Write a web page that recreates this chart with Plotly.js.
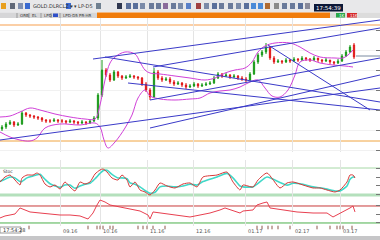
<!DOCTYPE html>
<html><head><meta charset="utf-8">
<script src="https://cdn.plot.ly/plotly-3.0.1.min.js"></script>
<style>html,body{margin:0;padding:0;background:#fff;overflow:hidden}#chart{width:380px;height:240px}</style>
</head><body><div id="chart"></div>
<script>
// ---------- data ----------
const openP = [1042,1046,1052,1056,1050,1052,1074,1070,1068,1066,1064,1060,1058,1058,1060,1058,1058,1056,1058,1056,1054,1056,1054,1058,1064,1110,1160,1150,1140,1156,1148,1144,1146,1148,1146,1144,1132,1120,1106,1156,1144,1140,1142,1136,1132,1134,1130,1126,1128,1132,1128,1130,1132,1134,1144,1152,1148,1150,1146,1148,1144,1142,1140,1152,1176,1190,1196,1206,1184,1176,1178,1176,1180,1178,1182,1180,1184,1182,1180,1184,1180,1178,1180,1176,1174,1178,1188,1196,1210];
const highP = [1050,1056,1060,1058,1056,1078,1076,1072,1070,1068,1066,1062,1062,1064,1062,1062,1060,1062,1060,1058,1060,1058,1062,1068,1114,1180,1164,1154,1160,1158,1150,1150,1152,1150,1148,1146,1136,1124,1164,1160,1148,1146,1146,1140,1138,1136,1134,1132,1136,1134,1134,1136,1138,1148,1156,1154,1154,1152,1152,1150,1148,1146,1156,1180,1194,1200,1214,1208,1188,1182,1180,1184,1182,1186,1184,1188,1186,1184,1188,1184,1182,1184,1180,1178,1182,1192,1200,1210,1214];
const lowP = [1038,1042,1050,1046,1048,1050,1066,1064,1062,1060,1056,1054,1054,1056,1054,1054,1052,1054,1052,1050,1052,1050,1052,1056,1060,1106,1146,1136,1138,1144,1140,1142,1144,1142,1140,1128,1116,1100,1104,1140,1136,1138,1132,1128,1130,1126,1122,1124,1126,1124,1126,1128,1130,1132,1142,1144,1146,1142,1144,1140,1138,1136,1138,1150,1172,1186,1192,1180,1172,1174,1172,1174,1174,1176,1176,1178,1178,1176,1178,1176,1174,1176,1172,1170,1172,1176,1186,1194,1182];
const closeP = [1046,1052,1056,1050,1052,1074,1070,1068,1066,1064,1060,1058,1058,1060,1058,1058,1056,1058,1056,1054,1056,1054,1058,1064,1110,1160,1150,1140,1156,1148,1144,1146,1148,1146,1144,1132,1120,1106,1156,1144,1140,1142,1136,1132,1134,1130,1126,1128,1132,1128,1130,1132,1134,1144,1152,1148,1150,1146,1148,1144,1142,1140,1152,1176,1190,1196,1206,1184,1176,1178,1176,1180,1178,1182,1180,1184,1182,1180,1184,1180,1178,1180,1176,1174,1178,1188,1196,1206,1186];

const bbUpperX = [-0.5,2,4.5,7,9.5,13.25,17,20.75,23.25,24.5,25.75,27,28.25,30.75,33.25,34.5,35.75,37,39.5,43.25,47,50.75,53.25,55.75,58.25,60.75,62.5,64,65.75,68.25,72,74.5,77,79.5,83.25,85.25,86.5,87.75];
const bbUpper  = [1066,1068,1076,1084,1080,1072,1066,1062,1062,1090,1140,1174,1186,1196,1192,1176,1160,1154,1152,1148,1144,1140,1144,1154,1160,1164,1176,1196,1208,1214,1214,1206,1194,1186,1184,1184,1190,1200];
const bbLowerX = [-0.5,2,4.5,7,8.75,10.75,14.5,19.5,23.25,24.5,25.5,26.5,28.25,30.75,32.5,34,35.75,37,39.5,43.25,47,49.5,52,54.5,57,59.5,62,64,65.75,67.5,69.5,71.5,73.25,74.5,77,79.5,82.75,85.75,87.75];
const bbLower  = [1036,1026,1020,1018,1024,1044,1052,1050,1054,1046,1020,1004,1016,1044,1070,1104,1120,1108,1102,1100,1102,1104,1114,1118,1120,1126,1136,1140,1124,1108,1106,1120,1150,1176,1180,1174,1170,1168,1166];

// trend lines: start/end (bar index, price)
const trendStartX = [22.75,37.75,37,-0.5,37,25.75,31.5,66.5];
const trendStartP = [1182,1166,1100,1020,1044,1186,1134,1210];
const trendEndX   = [94.5,94.5,94.5,94.5,94.5,94.5,94.5,92];
const trendEndP   = [1260,1244,1184,1124,1150,1096,1080,1080];

const levelPeach = 1250, levelOrange = 1018, lastPrice = 1188;

const stochX = [-0.5,0.75,2,3.25,4.5,5,6.25,7.75,8.75,9.5,10.75,12,13.25,14.5,15.75,17,18.25,19.5,20.75,22,23.25,24.5,25.25,26.25,27.5,29,30,31.25,32,33.25,34.5,35.75,37,38.25,39.5,41.25,43.25,45.25,47,48.75,50.25,53.75,56.25,57.75,59.5,60.25,62.75,64,66.25,69.5,71.25,72.75,75.25,77.75,79.5,81.25,83.25,84.5,86.25,87,87.75,88.25];
const stochK = [48.9,60,64.4,53.3,42.2,57.8,64.4,64.4,68.9,64.4,44.4,37.8,42.2,33.3,48.9,37.8,28.9,48.9,44.4,48.9,66.7,75.6,77.8,71.1,57.8,53.3,64.4,53.3,37.8,48.9,31.1,26.7,20,31.1,46.7,40,35.6,44.4,46.7,37.8,60,64.4,71.1,48.9,31.1,42.2,37.8,53.3,68.9,35.6,46.7,48.9,42.2,35.6,35.6,31.1,26.7,31.1,48.9,64.4,64.4,57.8];
const stochD = [50,55,60,58,50,50,58,62,65,66,55,45,40,37,42,42,35,40,44,46,56,68,74,75,66,58,58,56,47,44,38,30,24,26,38,40,38,40,44,42,50,60,68,58,40,38,38,46,60,48,42,46,44,38,36,33,29,29,40,55,60,60];
const stochLevels = [80, 20];

const rsiX = [-0.5,0.75,2,3.25,4.5,5.75,7,9.5,12,14.5,17,19.5,21.5,22.75,23.75,24.5,25.75,27,29.5,32,34.5,36.5,37,37.75,39.5,42,44.5,47,49.5,52,54.5,55.75,59.5,60.25,62.75,63.75,65.25,66.25,67,70.25,73.75,77.75,81.25,82.75,83.75,85.25,87,87.75,88.25];
const rsiV = [41.8,46.5,48.8,51.2,65.3,60.6,55.9,53.5,51.2,48.8,48.8,46.5,39.4,53.5,72.4,84.1,79.4,72.4,67.6,62.9,58.2,48.8,39.4,55.9,53.5,51.2,46.5,44.1,48.8,53.5,60.6,65.3,53.5,58.2,60.6,72.4,77.1,79.4,65.3,60.6,55.9,53.5,53.5,44.1,48.8,55.9,65.3,70,55.9];
const rsiLevels = [70, 30];

const tickPos = [14.5,24.5,36.25,47.75,60.75,72.5,84.5];
const tickLabels = ["09.16","10.16","11.16","12.16","01.17","02.17","03.17"];
const eventIdx = [6.75,21.5,23.75,24.5,25.25,27,27.75,34,35.25,36.25,37.75,40.75,63.75,65,66.5,67.5,69,72,78.75,82,83.75,84.5,85.25,87.5];

// ---------- build ----------
const barIdx = closeP.map((_, i) => i);
const traces = [];
traces.push({type:'candlestick', x:barIdx, open:openP, high:highP, low:lowP, close:closeP,
  xaxis:'x', yaxis:'y', whiskerwidth:0,
  increasing:{line:{color:'#1a9a1a', width:1}, fillcolor:'#1a9a1a'},
  decreasing:{line:{color:'#e01818', width:1}, fillcolor:'#e01818'},
  hoverinfo:'skip', showlegend:false});
traces.push({type:'scatter', mode:'lines', x:bbUpperX, y:bbUpper, xaxis:'x', yaxis:'y',
  line:{color:'#d040d8', width:1, shape:'spline', smoothing:1}, hoverinfo:'skip', showlegend:false});
traces.push({type:'scatter', mode:'lines', x:bbLowerX, y:bbLower, xaxis:'x', yaxis:'y',
  line:{color:'#d040d8', width:1, shape:'spline', smoothing:1}, hoverinfo:'skip', showlegend:false});
for (let k = 0; k < trendStartX.length; k++) {
  traces.push({type:'scatter', mode:'lines', x:[trendStartX[k], trendEndX[k]], y:[trendStartP[k], trendEndP[k]],
    xaxis:'x', yaxis:'y', line:{color:'#3a3ac8', width:1}, hoverinfo:'skip', showlegend:false});
}
traces.push({type:'scatter', mode:'lines', x:[88.5, 94.5], y:[lastPrice, lastPrice], xaxis:'x', yaxis:'y',
  line:{color:'#7a8aa0', width:1}, hoverinfo:'skip', showlegend:false});
traces.push({type:'scatter', mode:'lines', x:stochX, y:stochD, xaxis:'x2', yaxis:'y2',
  line:{color:'#40d8c8', width:1.6, shape:'spline', smoothing:0.6}, hoverinfo:'skip', showlegend:false});
traces.push({type:'scatter', mode:'lines', x:stochX, y:stochK, xaxis:'x2', yaxis:'y2',
  line:{color:'#d83838', width:1, shape:'spline', smoothing:0.6}, hoverinfo:'skip', showlegend:false});
traces.push({type:'scatter', mode:'lines', x:rsiX, y:rsiV, xaxis:'x3', yaxis:'y3',
  line:{color:'#e84050', width:1}, hoverinfo:'skip', showlegend:false});
traces.push({type:'scatter', mode:'markers', x:eventIdx, y:eventIdx.map(() => 0), xaxis:'x4', yaxis:'y4',
  marker:{symbol:'line-ns-open', size:3, line:{color:'#111', width:1}}, hoverinfo:'skip', showlegend:false});

const P = px => 1 - px / 240; // paper y from pixel row (layout only)
const shapes = [];
// price levels
shapes.push({type:'line', xref:'paper', x0:0, x1:1, yref:'y', y0:levelPeach, y1:levelPeach, line:{color:'#fbcfa6', width:2}, layer:'below'});
shapes.push({type:'line', xref:'paper', x0:0, x1:1, yref:'y', y0:levelOrange, y1:levelOrange, line:{color:'#f0a440', width:1}, layer:'below'});
shapes.push({type:'line', xref:'paper', x0:0, x1:1, yref:'y2', y0:stochLevels[0], y1:stochLevels[0], line:{color:'#a6d8a6', width:1}, layer:'below'});
shapes.push({type:'line', xref:'paper', x0:0, x1:1, yref:'y2', y0:stochLevels[1], y1:stochLevels[1], line:{color:'#b4e0bc', width:3}, layer:'below'});
shapes.push({type:'line', xref:'paper', x0:0, x1:1, yref:'y3', y0:rsiLevels[0], y1:rsiLevels[0], line:{color:'#c83a3a', width:1}, layer:'below'});
shapes.push({type:'line', xref:'paper', x0:0, x1:1, yref:'y3', y0:rsiLevels[1], y1:rsiLevels[1], line:{color:'#4cb04c', width:1}, layer:'below'});
// toolbar chrome
const rect = (x0, y0, x1, y1, fill, line) => ({type:'rect', xref:'paper', yref:'paper',
  x0:x0/380, x1:x1/380, y0:P(y1), y1:P(y0), fillcolor:fill, line:{width:line?1:0, color:line||fill}, layer:'above'});
shapes.push(rect(0, 0, 380, 12.5, '#e8e8ea'));
shapes.push(rect(0, 12.5, 97, 18, '#d6d6d8'));
shapes.push(rect(97, 12.5, 330, 18, '#f07c0c'));
shapes.push(rect(330, 12.5, 380, 18, '#dcdcdc'));
shapes.push(rect(336, 13, 345, 17.5, '#2aa84a'));
shapes.push(rect(347, 13, 357, 17.5, '#d62828'));
shapes.push(rect(53, 13.5, 58, 17, '#3050c8'));
[17, 29, 41, 51, 60].forEach(x => shapes.push({type:'line', xref:'paper', yref:'paper', x0:x/380, x1:x/380, y0:P(18), y1:P(13), line:{color:'#999', width:1}, layer:'above'}));
const icons = [[1,'#e8a020'],[10,'#606878'],[18,'#8090b0'],[25,'#3a6ad0'],[66,'#3a6ad0'],[96,'#708090'],[117,'#303850'],[126,'#5a6f9a'],[133,'#5a6f9a'],[140,'#7a8aa8'],[149,'#6a7a9a'],[156,'#6a7a9a'],[163,'#8a6a9a'],[171,'#6a7a9a'],[178,'#7a8aa8'],[186,'#5a80c8'],[196,'#a04040'],[204,'#7a8aa8'],[212,'#5a6f9a'],[219,'#6a7a9a'],[228,'#6a7a9a'],[236,'#7a8aa8'],[244,'#5a6f9a'],[251,'#4a8ad8'],[258,'#4a8ad8'],[265,'#b06a30'],[274,'#8a8a8a'],[282,'#6a7a9a'],[290,'#6a7a9a'],[298,'#5a6f9a'],[305,'#8a8a9a']];
icons.forEach(([x, c]) => shapes.push(rect(x, 3, x + 5, 9, c)));
shapes.push(rect(314, 4, 343, 11.5, '#0c1838'));
shapes.push(rect(0, 236, 380, 240, '#c6c6c8'));
shapes.push(rect(0, 227, 21, 233, '#ffffff', '#9a9a9a'));

const annotations = [];
const ann = (x, y, text, size, color, extra) => Object.assign({xref:'paper', yref:'paper', x:x/380, y:P(y), text, showarrow:false,
  xanchor:'left', yanchor:'middle', font:{family:'DejaVu Sans', size, color}}, extra || {});
annotations.push(ann(31, 6, 'GOLD.DLRCLZ ▾', 5, '#333'));
annotations.push(ann(72, 6, '▾ LP-D5', 5, '#333'));
annotations.push(ann(328.5, 7.8, '17:54:39', 5.5, '#ffffff', {xanchor:'center'}));
annotations.push(ann(18, 15.3, 'ORB', 4, '#333'));
annotations.push(ann(30, 15.3, 'EL', 4, '#333'));
annotations.push(ann(42, 15.3, 'LPD', 4, '#333'));
annotations.push(ann(61, 15.3, 'LPD-D5 PR-HR', 4, '#333'));
annotations.push(ann(337, 15.3, '1K', 4, '#fff'));
annotations.push(ann(348, 15.3, '11K', 4, '#fff'));
annotations.push(ann(1, 171, 'Stoc', 4.5, '#333'));
annotations.push(ann(1, 230, '17:54:28', 5, '#333'));
tickPos.forEach((p, k) => annotations.push({xref:'x3', yref:'paper', x:p, y:P(231), text:tickLabels[k], showarrow:false,
  xanchor:'left', yanchor:'middle', xshift:1, font:{family:'DejaVu Sans', size:5, color:'#555'}}));

const xBase = {range:[-0.5, 94.5], showticklabels:false, ticks:'', showgrid:true, gridcolor:'#e4e4e4', gridwidth:1,
  tickmode:'array', tickvals:tickPos, zeroline:false, showline:false, fixedrange:true};
const yBase = {side:'right', showticklabels:false, ticks:'inside', ticklen:4, tickcolor:'#777', zeroline:false, showline:false, fixedrange:true};
const layout = {
  width:380, height:240, margin:{l:0, r:0, t:0, b:0}, paper_bgcolor:'#ffffff', plot_bgcolor:'rgba(0,0,0,0)',
  showlegend:false, dragmode:false, boxgap:0.55,
  xaxis: Object.assign({}, xBase, {anchor:'y', rangeslider:{visible:false}}),
  xaxis2: Object.assign({}, xBase, {anchor:'y2', matches:'x'}),
  xaxis3: Object.assign({}, xBase, {anchor:'y3', matches:'x'}),
  xaxis4: {anchor:'y4', matches:'x', range:[-0.5, 94.5], visible:false},
  yaxis: Object.assign({}, yBase, {anchor:'x', domain:[P(152), P(18)], range:[996, 1264], showgrid:true, gridcolor:'#f1f1f1', dtick:40}),
  yaxis2: Object.assign({}, yBase, {anchor:'x2', domain:[P(198), P(160)], range:[13.3, 97.8], showgrid:false, tickvals:[20,40,60,80]}),
  yaxis3: Object.assign({}, yBase, {anchor:'x3', domain:[P(226), P(198)], range:[22.9, 88.8], showgrid:false, tickvals:[30,50,70]}),
  yaxis4: {anchor:'x4', domain:[P(229.5), P(225.5)], range:[-1, 1], visible:false},
  shapes, annotations
};
Plotly.newPlot('chart', traces, layout, {staticPlot:true, displayModeBar:false});
</script></body></html>
